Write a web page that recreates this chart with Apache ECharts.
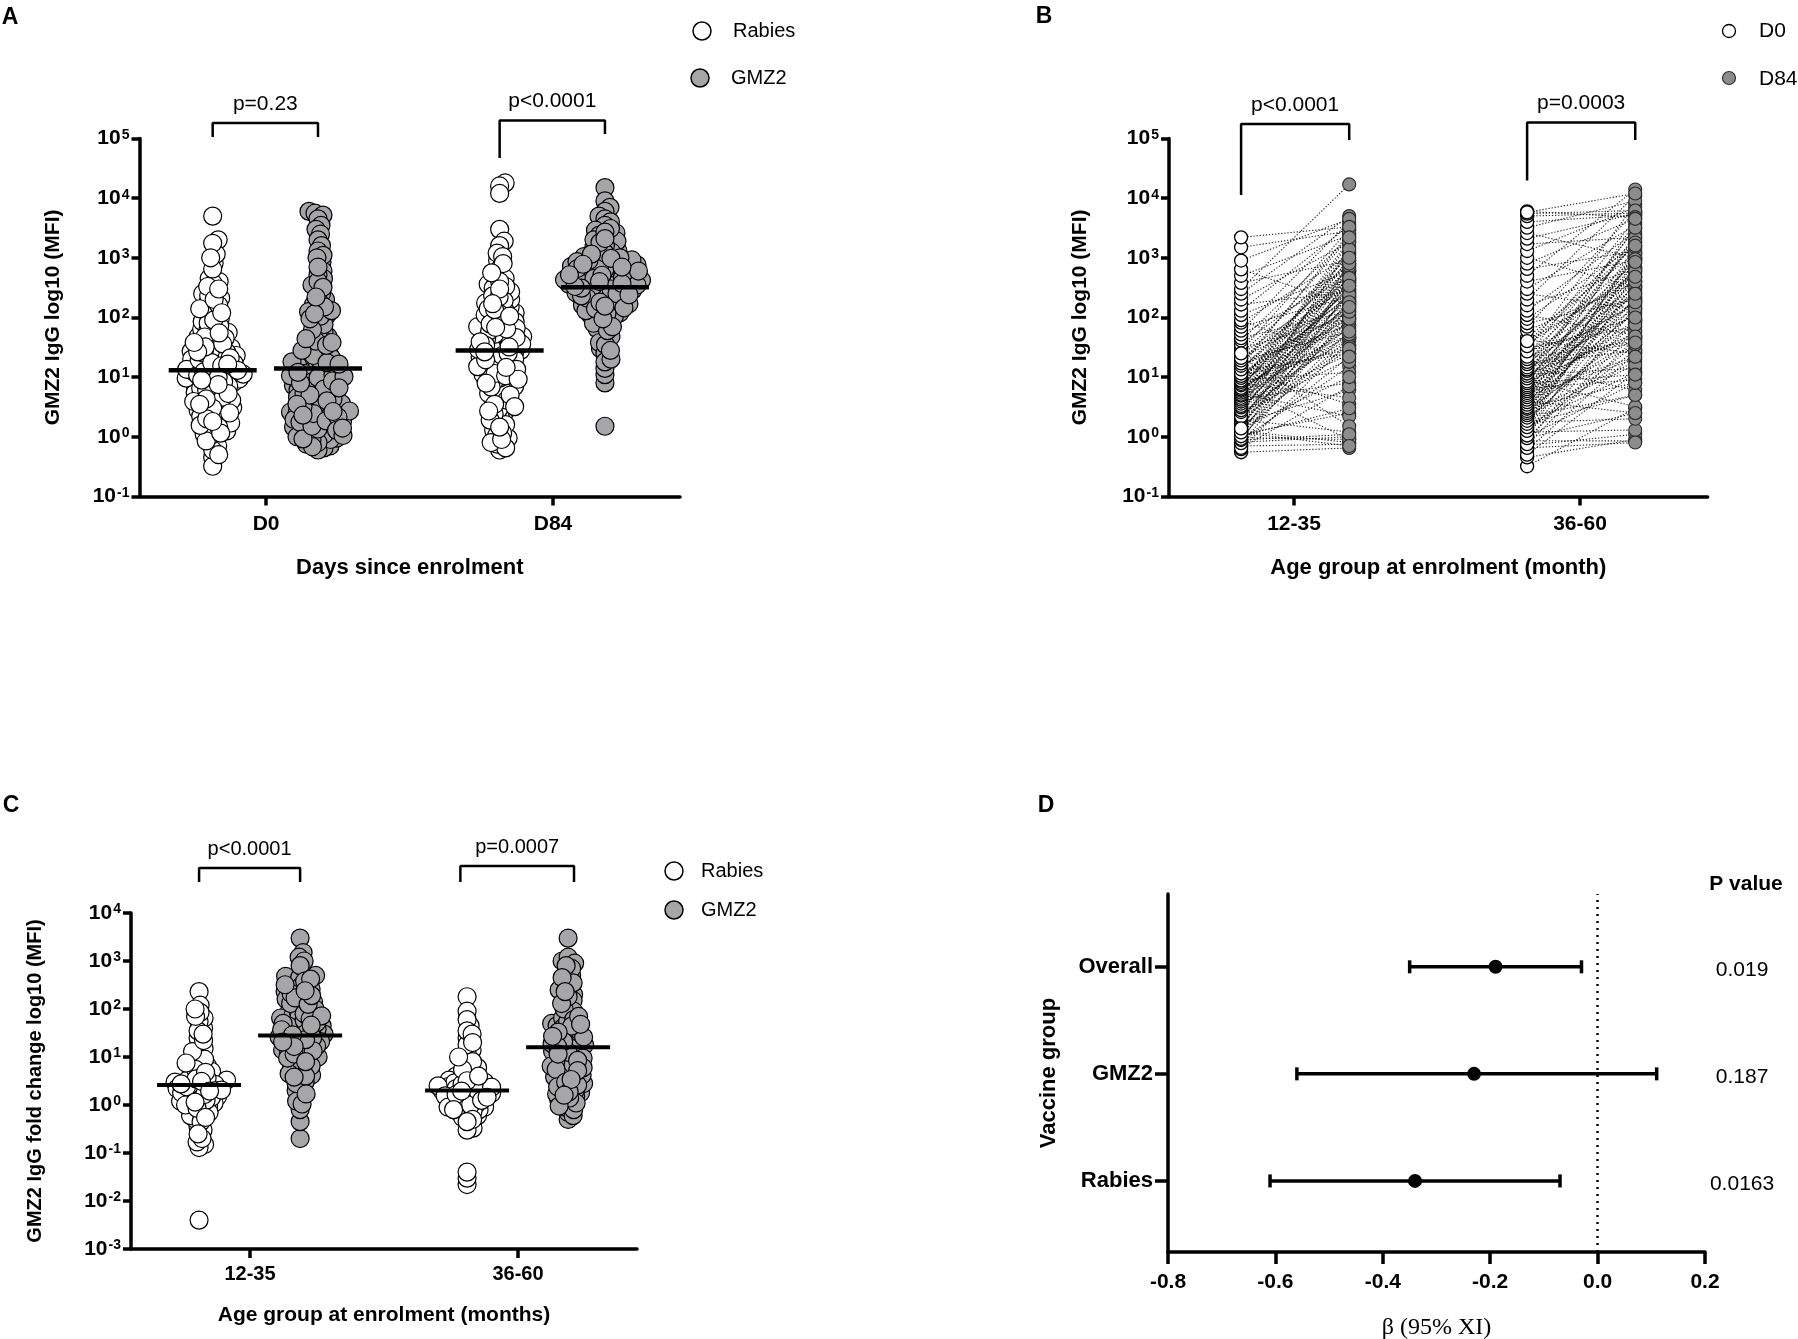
<!DOCTYPE html>
<html>
<head>
<meta charset="utf-8">
<script src="https://cdn.jsdelivr.net/npm/echarts@6/dist/echarts.min.js"></script>
<style>html,body{margin:0;padding:0;background:#fff}#c{width:1798px;height:1339px}</style>
</head>
<body>
<div id="c"></div>
<script>
// ================= DATA =================
// Panel A : GMZ2 IgG (MFI) by day and vaccine group
const panelA_categories = ['D0', 'D84'];
const panelA_rabies_D0 = [12, 5000, 3.4, 27, 0.8, 150, 6.2, 48, 1.6, 19, 820, 9.1, 2.3, 64, 14, 0.45, 31, 4.4, 210, 11, 1.1, 23, 7.3, 95, 2.9, 17, 400, 5.5, 38, 1.35, 13, 2000, 8.2, 0.95, 56, 21, 3.8, 130, 10.3, 1.9, 42, 6.8, 26, 2.6, 250, 15, 0.7, 72, 4.9, 18, 1150, 9.6, 3.1, 34, 12.5, 1.5, 180, 7.7, 29, 2.1, 85, 5.1, 16, 0.32, 450, 11.5, 3.6, 52, 24, 1.25, 8.7, 115, 20, 4.1, 1750, 6.5, 40, 2.45, 13.5, 0.6, 68, 10.8, 3.3, 280, 22, 1.7, 9.3, 45, 5.8, 370, 14.5, 2.75, 105, 19.5, 1.05, 7.1, 60, 4.6, 28, 0.85, 160, 12.2, 3.9, 36, 650, 8.4, 2.2, 25, 1.45, 80, 10.1, 5.3, 17.5, 230, 1.55, 6.0, 47, 3.0, 15.5, 1000, 9.9, 2.0, 32, 0.5, 140, 11.2, 4.3, 90, 21, 1.15, 7.5, 330, 26.5, 2.5, 55, 13, 1.8, 200, 8.9, 16.5, 3.5, 300, 38, 120];
const panelA_gmz2_D0 = [1.2, 6000, 4.5, 15, 0.85, 2.6, 110, 8, 1.7, 22, 3.3, 0.7, 5600, 11, 1.4, 48, 6.5, 2.1, 17, 0.95, 300, 3.9, 9.5, 1.05, 27, 5.2, 1.9, 13, 850, 2.4, 0.65, 70, 7.2, 1.3, 19, 4.1, 5200, 10.5, 1.55, 36, 2.9, 0.9, 140, 6, 14, 1.15, 3.6, 24, 8.8, 0.75, 4500, 1.8, 12, 58, 2.2, 5.6, 0.6, 200, 16, 1.45, 4.8, 30, 9.1, 2.7, 600, 1.1, 21, 3.1, 0.8, 7.6, 3500, 13.5, 1.65, 42, 2.5, 165, 6.9, 11.5, 1.25, 0.88, 4.3, 26, 3000, 1.95, 88, 10, 2.35, 5.9, 18, 450, 1.35, 3.4, 0.68, 250, 15.5, 8.3, 2.05, 54, 1.6, 2500, 12.5, 4.6, 1.0, 125, 33, 7, 2.8, 20, 1.75, 350, 5.4, 0.92, 9.8, 2000, 14.5, 3.8, 1.5, 76, 23, 6.3, 2.45, 105, 11, 1.85, 520, 4, 17.5, 1600, 2.15, 8.6, 40, 1.28, 3.2, 180, 28, 5, 1300, 1.05, 62, 10.2, 400, 2.65, 7.9, 130, 16.5, 1100, 3.5, 95, 1.4, 320, 12, 44, 1000, 150, 6.6, 700, 34, 115, 2.3, 220, 38];
const panelA_rabies_D84 = [28, 18000, 6.5, 45, 1.8, 120, 15, 900, 3.2, 62, 22, 0.6, 250, 9, 35, 16000, 4.4, 80, 12, 1.3, 500, 19, 2.6, 150, 7.5, 55, 26, 0.95, 12000, 40, 5.3, 200, 14, 1.05, 90, 33, 650, 8.2, 3000, 17, 2.2, 70, 11, 130, 3.8, 48, 24, 0.75, 360, 6, 1900, 100, 30, 10, 2.9, 58, 21, 175, 4.8, 1600, 38, 13, 0.65, 85, 7, 310, 27, 1.6, 110, 16, 50, 5.8, 1200, 42, 9.6, 230, 2.4, 66, 20, 0.8, 450, 31, 8.5, 140, 12.5, 1050, 75, 4.1, 36, 18, 270, 1.15, 52, 6.8, 23, 160, 11.5, 800, 44, 3.5, 95, 25, 1.9, 330, 15, 60, 5, 190, 29, 10.5, 0.9, 400, 34, 7.9, 115, 13.5, 78, 2.7, 220, 46, 19.5, 560, 9.2, 32, 135, 64, 14.5, 1.45, 105, 39, 300, 26.5, 3.2, 68, 170];
const panelA_gmz2_D84 = [320, 15000, 110, 650, 1.5, 2200, 45, 480, 180, 9000, 820, 260, 30, 1300, 390, 140, 7000, 560, 8, 210, 950, 75, 1700, 350, 120, 6000, 700, 290, 55, 430, 1100, 160, 5000, 600, 240, 11, 380, 2600, 90, 520, 200, 4500, 850, 310, 65, 1500, 460, 150, 4000, 720, 270, 38, 540, 1900, 230, 14, 410, 125, 3500, 880, 340, 100, 620, 1250, 190, 25, 500, 2900, 280, 160, 760, 80, 1050, 360, 18, 580, 220, 3100, 440, 130, 920, 300, 48, 680, 1400, 250, 420, 105, 2400, 800, 330, 170, 35, 1000, 470, 210, 640, 2000, 290, 115, 550, 1600, 390, 60, 740, 260, 1200, 450, 140, 980, 20, 350, 600, 2700, 180, 510, 860, 230, 70, 400, 1800, 310, 660, 145, 900, 28, 370, 1150, 240, 780, 95, 430, 2100, 330, 520, 155, 700];
const panelA_medians_rabies = [13, 28];
const panelA_medians_gmz2 = [14, 320];
const panelA_pvalues = ['p=0.23', 'p<0.0001'];

// Panel B : paired D0 -> D84 per child, by age group
const panelB_categories = ['12-35', '36-60'];
const panelB_D0_12_35 = [0.55, 0.62, 0.7, 0.74, 0.81, 0.86, 0.9, 0.97, 1.0, 1.08, 1.1, 1.22, 1.25, 1.33, 1.4, 1.52, 1.6, 1.72, 1.8, 1.93, 2.0, 2.15, 2.3, 2.55, 2.7, 3.0, 3.2, 3.45, 3.8, 4.05, 4.3, 4.7, 5.0, 5.3, 5.7, 6.0, 6.4, 7.1, 7.5, 8.0, 8.6, 9.0, 10, 11.2, 12, 13, 14.5, 15, 16, 18, 20.5, 22, 24, 27, 30, 9.4, 6.8, 2.4, 12.6, 7.8, 35, 41, 45, 52, 60, 70, 82, 90, 110, 130, 165, 200, 250, 300, 380, 500, 640, 900, 1500, 2200,
  1.15, 1.45, 1.65, 1.85, 2.05, 2.2, 2.6, 2.8, 3.1, 3.3, 3.6, 3.9, 4.2, 4.5, 4.9, 5.1, 5.5, 5.9, 6.2, 6.6, 7.3, 7.7, 8.3, 8.8, 9.7, 10.5, 11.5, 13.5, 15.5, 17, 19, 21, 25, 0.65, 0.78, 0.88, 0.92, 1.02, 1.18, 1.38];
const panelB_D84_12_35 = [0.65, 40, 0.75, 120, 1.0, 300, 15, 0.9, 60, 500, 2.5, 200, 0.8, 90, 800, 30, 150, 6, 400, 1.2, 250, 70, 1500, 20, 350, 180, 600, 45, 1000, 110, 8, 320, 700, 2.2, 160, 2000, 85, 450, 35, 1200, 230, 12, 550, 140, 900, 3.5, 380, 2600, 75, 650, 190, 1.5, 420, 3000, 100, 280, 0.9, 55, 25, 4.5, 750, 2200, 130, 480, 4000, 220, 1100, 18, 600, 3500, 270, 1800, 5000, 17000, 900, 2400, 160, 4500, 2800, 3300,
  45, 260, 95, 600, 33, 170, 420, 75, 1300, 140, 24, 380, 650, 65, 210, 1800, 48, 300, 110, 720, 52, 240, 1400, 95, 460, 30, 180, 800, 125, 2200, 58, 340, 1000, 7, 22, 1.1, 150, 3, 0.7, 10];
const panelB_D0_36_60 = [0.32, 0.45, 0.6, 0.72, 0.8, 0.86, 0.93, 1.0, 1.12, 1.2, 1.33, 1.4, 1.55, 1.6, 1.74, 1.8, 1.95, 2.0, 2.2, 2.45, 2.6, 2.85, 3.05, 3.3, 3.65, 4.0, 4.4, 4.85, 5.2, 5.6, 6.1, 6.5, 7.0, 7.6, 8.2, 9.1, 10, 11, 12.3, 13, 14.2, 15, 17, 19, 21, 23.5, 25, 28, 31, 35, 38, 42, 46, 8.8, 16.2, 60, 70, 80, 95, 110, 130, 160, 200, 250, 300, 400, 500, 650, 800, 1000, 1300, 1700, 2100, 2600, 3200, 4000, 5000, 5500, 6000, 5800,
  0.5, 0.65, 0.75, 0.95, 1.05, 1.25, 1.45, 1.65, 1.85, 2.1, 2.3, 2.5, 2.7, 2.95, 3.15, 3.45, 3.8, 4.2, 4.6, 5.0, 5.4, 5.8, 6.3, 6.8, 7.3, 7.9, 8.5, 9.5, 10.5, 11.5, 12.7, 13.5, 14.6, 16.5, 18, 20, 22, 27, 33, 40];
const panelB_D84_36_60 = [3, 0.9, 25, 1.1, 150, 0.85, 60, 8, 400, 1.3, 35, 220, 900, 12, 2.0, 500, 80, 1400, 5, 280, 18, 700, 45, 1100, 130, 2.5, 350, 20, 2500, 90, 600, 9, 190, 4000, 55, 800, 240, 14, 1800, 110, 450, 6, 3000, 160, 40, 1000, 300, 8000, 70, 550, 2000, 25, 1200, 3.2, 28, 380, 6000, 200, 1600, 50, 2700, 650, 11000, 140, 3500, 900, 14000, 1300, 4500, 320, 7000, 2200, 5500, 1000, 9000, 5200, 5600, 6200, 4800, 12000,
  12, 0.8, 45, 2.5, 180, 28, 650, 5, 90, 320, 16, 1200, 60, 210, 8, 480, 35, 1500, 120, 700, 22, 260, 2200, 75, 400, 11, 950, 140, 3200, 48, 600, 180, 1800, 38, 850, 250, 4500, 100, 1600, 480];
const panelB_pvalues = ['p<0.0001', 'p=0.0003'];

// Panel C : fold change (D84/D0) by age group and vaccine group
const panelC_categories = ['12-35', '36-60'];
const panelC_rabies_12_35 = [2.6, 230, 0.004, 1.4, 6.5, 0.15, 2.1, 40, 0.9, 3.8, 1.7, 12, 0.35, 2.9, 65, 1.2, 5, 0.65, 2.3, 18, 0.13, 3.3, 1.05, 8, 0.5, 1.9, 120, 2.7, 0.8, 4.4, 1.5, 25, 0.3, 3, 7, 1.1, 55, 2.2, 0.6, 10, 1.6, 3.6, 0.17, 2.5, 6, 1.3, 85, 0.95, 2, 15, 0.7, 4, 1.8, 35, 2.8, 0.45, 1, 9, 3.2, 1.45, 0.2, 5.5, 2.4, 70, 1.25, 13, 0.85, 3.5, 2.05, 22, 0.55, 4.8, 1.65, 100, 2.75, 1.15, 7.5, 0.25, 30, 3.1, 1.95];
const panelC_gmz2_12_35 = [28, 3000, 0.2, 5, 120, 14, 400, 1.6, 45, 9, 1500, 22, 250, 3.5, 70, 0.45, 33, 180, 11, 600, 2.4, 55, 18, 350, 7, 1200, 40, 4.2, 95, 26, 0.8, 150, 13, 480, 60, 6, 30, 1000, 2, 85, 20, 280, 8.5, 38, 16, 200, 3, 65, 10, 450, 24, 140, 5.5, 48, 1.2, 800, 34, 110, 12, 300, 75, 7.5, 42, 19, 230, 4.5, 90, 27, 160, 15, 500, 52, 2.8, 36, 9.5, 260, 68, 21, 130, 6.5, 380, 44, 17, 100, 1.05, 58, 31, 210, 11.5, 80, 4, 25, 170, 50, 13.5, 320, 62, 23, 1.7, 125, 37, 8, 420, 29, 190, 16.5, 72, 3.8, 46, 240, 20.5];
const panelC_rabies_36_60 = [2, 180, 0.022, 1.3, 4, 0.03, 0.9, 2.6, 14, 0.33, 1.7, 6, 0.6, 2.3, 45, 1.1, 3.3, 0.04, 1.5, 9, 0.8, 2.8, 0.3, 1.9, 25, 1.2, 5, 0.7, 2.4, 90, 1.6, 3.8, 0.95, 2.1, 12, 0.55, 1.4, 7, 2.9, 0.85, 1.75, 60, 1.05, 3, 0.65, 2.2, 18, 1.35, 4.5, 0.75, 2.5, 1.85, 35, 1, 3.5, 0.5, 1.55, 8, 2.05, 30, 1.25, 2.7, 0.9, 5.5, 1.65, 10, 0.45, 2.35, 1.45, 3.2, 0.8, 1.95, 20, 4];
const panelC_gmz2_36_60 = [16, 3000, 0.5, 4, 80, 1.2, 25, 1000, 9, 2.5, 400, 14, 0.7, 50, 6, 200, 1.8, 35, 12, 1200, 3.2, 22, 0.9, 120, 7.5, 600, 1.5, 45, 18, 5, 900, 2.2, 30, 11, 300, 0.6, 65, 8, 20, 1.3, 150, 3.8, 40, 13, 500, 2.8, 28, 6.5, 1.05, 90, 17, 250, 4.5, 55, 2, 10, 700, 24, 3.5, 1.7, 100, 15, 5.5, 38, 0.8, 180, 9.5, 2.4, 26, 350, 7, 1.1, 60, 19, 3, 800, 12.5, 44, 4.2, 1.4, 130, 21, 6, 70, 2.6, 33, 1.9, 450, 8.5, 16.5, 0.95, 230, 5.2, 48, 11.5, 3.4, 27, 1.6];
const panelC_medians_rabies = [2.6, 2.0];
const panelC_medians_gmz2 = [28, 16];
const panelC_pvalues = ['p<0.0001', 'p=0.0007'];

// Panel D : regression coefficients (bottom to top)
const panelD_groups = ['Rabies', 'GMZ2', 'Overall'];
const panelD_beta = [-0.34, -0.23, -0.19];
const panelD_lower = [-0.61, -0.56, -0.35];
const panelD_upper = [-0.07, 0.11, -0.03];
const panelD_pvalues = ['0.0163', '0.187', '0.019'];

// Tick values
const logTicksAB = [0.1, 1, 10, 100, 1000, 10000, 100000];
const logTicksC = [0.001, 0.01, 0.1, 1, 10, 100, 1000, 10000];

// ================= LAYOUT / STYLE =================
const FONT = "'Liberation Sans', Arial, Helvetica, sans-serif";
const G = {
  A: {left: 139.5, top: 138.5, width: 540.5, height: 357.9, xmin: -0.441, xmax: 1.4425},
  B: {left: 1169, top: 138.5, width: 538.6, height: 357.9, xmin: -0.437, xmax: 1.446},
  C: {left: 131, top: 913, width: 506, height: 336, xmin: -0.444, xmax: 1.444},
  D: {left: 1168, top: 894, width: 537, height: 358}
};
const offA = [-0.186, 0.181];   // Rabies, GMZ2 offset from category
const offB = [-0.185, 0.193];   // D0, D84
const offC = [-0.19, 0.187];    // Rabies, GMZ2
const WHITE = {color: '#ffffff', borderColor: '#000', borderWidth: 1.2, opacity: 1};
const GREY = {color: '#a6a6a8', borderColor: '#000', borderWidth: 1.2, opacity: 1};

// beeswarm layout (horizontal placement only; y is the value)
function swarm(values, center, pxPerDecade, pxPerUnit, md) {
  const ys = values.map(v => Math.log10(v) * pxPerDecade);
  const order = ys.map((y, i) => i).sort((a, b) => ys[a] - ys[b]);
  const px = [], py = [], xs = new Array(values.length);
  for (const i of order) {
    const y = ys[i];
    let chosen = 0;
    for (let k = 0; k < 4000; k++) {
      const dx = (k % 2 ? 1 : -1) * Math.ceil(k / 2) * 0.5;
      let ok = true;
      for (let j = py.length - 1; j >= 0; j--) {
        const dy = y - py[j];
        if (dy >= md) break;
        const ddx = dx - px[j];
        if (ddx * ddx + dy * dy < md * md) { ok = false; break; }
      }
      if (ok) { chosen = dx; break; }
    }
    px.push(chosen); py.push(y);
    xs[i] = center + chosen / pxPerUnit;
  }
  return values.map((v, i) => [xs[i], v]);
}
const pxDecA = G.A.height / 6, pxUnitA = G.A.width / (G.A.xmax - G.A.xmin);
const pxDecC = G.C.height / 7, pxUnitC = G.C.width / (G.C.xmax - G.C.xmin);
const MD_A = 6.2, MD_C = 5.9;

function logAxis(grid, min, max, ticks, name, gap, nameSize) {
  return {
    type: 'log', logBase: 10, gridIndex: grid, min: min, max: max,
    axisLine: {show: true, onZero: false, lineStyle: {color: '#000', width: 3.5}},
    axisTick: {show: true, length: 8, customValues: ticks, lineStyle: {color: '#000', width: 3.5}},
    minorTick: {show: false}, splitLine: {show: false},
    axisLabel: {
      customValues: ticks, margin: 10,
      formatter: v => '{b|10}{s|' + Math.round(Math.log10(v)) + '}',
      rich: {
        b: {fontSize: 21, fontWeight: 'bold', fontFamily: FONT, color: '#000'},
        s: {fontSize: 14, fontWeight: 'bold', fontFamily: FONT, color: '#000', verticalAlign: 'top', padding: [0, 0, 0, 1]}
      }
    },
    name: name, nameLocation: 'middle', nameRotate: 90, nameGap: gap,
    nameTextStyle: {fontSize: nameSize, fontWeight: 'bold', fontFamily: FONT, color: '#000'}
  };
}
function catAxis(grid, g, cats, name, gap, labelSize, nameSize, margin) {
  return {
    type: 'value', gridIndex: grid, min: g.xmin, max: g.xmax,
    axisLine: {show: true, onZero: false, lineStyle: {color: '#000', width: 3.5}},
    axisTick: {show: true, length: 9, customValues: [0, 1], lineStyle: {color: '#000', width: 3.5}},
    splitLine: {show: false},
    axisLabel: {customValues: [0, 1], margin: margin, formatter: v => cats[Math.round(v)],
      fontSize: labelSize, fontWeight: 'bold', fontFamily: FONT, color: '#000'},
    name: name, nameLocation: 'middle', nameGap: gap,
    nameTextStyle: {fontSize: nameSize, fontWeight: 'bold', fontFamily: FONT, color: '#000'}
  };
}
function medianSeries(axis, points, half, width) {
  return {
    type: 'custom', xAxisIndex: axis, yAxisIndex: axis, z: 5, silent: true, clip: false,
    renderItem: (p, api) => {
      const c = api.coord([api.value(0), api.value(1)]);
      return {type: 'line', shape: {x1: c[0] - half, y1: c[1], x2: c[0] + half, y2: c[1]},
        style: {stroke: '#000', lineWidth: width}};
    },
    encode: {x: 0, y: 1},
    data: points
  };
}
// brackets: x ends in category units, heights as log10 exponents
function bracketSeries(axis, brs, texts, fontSize) {
  const out = [];
  brs.forEach((b, i) => {
    const top = Math.pow(10, b.top);
    out.push({
      type: 'line', xAxisIndex: axis, yAxisIndex: axis, clip: false, silent: true, symbol: 'none',
      lineStyle: {color: '#000', width: 2.5, opacity: 1}, z: 6,
      data: [[b.x[0], Math.pow(10, b.legs[0])], [b.x[0], top], [b.x[1], top], [b.x[1], Math.pow(10, b.legs[1])]]
    });
    out.push({
      type: 'scatter', xAxisIndex: axis, yAxisIndex: axis, clip: false, silent: true,
      symbolSize: 1, itemStyle: {color: 'rgba(0,0,0,0)', opacity: 1}, z: 6,
      label: {show: true, position: 'top', distance: 8, formatter: () => texts[i],
        fontSize: fontSize, fontFamily: FONT, color: '#000'},
      data: [[(b.x[0] + b.x[1]) / 2, top]]
    });
  });
  return out;
}
const bracketsA = [
  {x: [offA[0], offA[1]], top: 5.26, legs: [5.025, 5.025]},
  {x: [1 + offA[0], 1 + offA[1]], top: 5.30, legs: [4.673, 5.075]}
];
const bracketsB = [
  {x: [offB[0], offB[1]], top: 5.243, legs: [4.053, 4.975]},
  {x: [1 + offB[0], 1 + offB[1]], top: 5.268, legs: [4.294, 4.975]}
];
const bracketsC = [
  {x: [offC[0], offC[1]], top: 4.9375, legs: [4.646, 4.646]},
  {x: [1 - 0.215, 1 + 0.209], top: 4.979, legs: [4.646, 4.646]}
];

// ================= SERIES =================
const series = [];
// ---- A
series.push({type: 'scatter', name: 'Rabies', xAxisIndex: 0, yAxisIndex: 0, symbolSize: 18, itemStyle: WHITE, clip: false,
  data: swarm(panelA_rabies_D0, 0 + offA[0], pxDecA, pxUnitA, MD_A).concat(swarm(panelA_rabies_D84, 1 + offA[0], pxDecA, pxUnitA, MD_A))});
series.push({type: 'scatter', name: 'GMZ2', xAxisIndex: 0, yAxisIndex: 0, symbolSize: 18, itemStyle: GREY, clip: false,
  data: swarm(panelA_gmz2_D0, 0 + offA[1], pxDecA, pxUnitA, MD_A).concat(swarm(panelA_gmz2_D84, 1 + offA[1], pxDecA, pxUnitA, MD_A))});
series.push(medianSeries(0, panelA_medians_rabies.map((m, i) => [i + offA[0], m]).concat(panelA_medians_gmz2.map((m, i) => [i + offA[1], m])), 44, 4.5));
bracketSeries(0, bracketsA, panelA_pvalues, 21).forEach(s => series.push(s));

// ---- B
const pairsB = [];
panelB_D0_12_35.forEach((v, i) => pairsB.push([0 + offB[0], v, 0 + offB[1], panelB_D84_12_35[i]]));
panelB_D0_36_60.forEach((v, i) => pairsB.push([1 + offB[0], v, 1 + offB[1], panelB_D84_36_60[i]]));
series.push({
  type: 'custom', xAxisIndex: 1, yAxisIndex: 1, silent: true,
  renderItem: (p, api) => {
    const a = api.coord([api.value(0), api.value(1)]);
    const b = api.coord([api.value(2), api.value(3)]);
    return {type: 'line', shape: {x1: a[0], y1: a[1], x2: b[0], y2: b[1]},
      style: {stroke: 'rgba(0,0,0,0.85)', lineWidth: 1.1, lineDash: [1.3, 1.8]}};
  },
  encode: {x: [0, 2], y: [1, 3]},
  data: pairsB
});
series.push({type: 'scatter', name: 'D0', xAxisIndex: 1, yAxisIndex: 1, symbolSize: 13, clip: false,
  itemStyle: {color: '#fff', borderColor: '#000', borderWidth: 1.3, opacity: 1},
  data: panelB_D0_12_35.map(v => [0 + offB[0], v]).concat(panelB_D0_36_60.map(v => [1 + offB[0], v]))});
series.push({type: 'scatter', name: 'D84', xAxisIndex: 1, yAxisIndex: 1, symbolSize: 13, clip: false,
  itemStyle: {color: '#8c8c8c', borderColor: '#2a2a2a', borderWidth: 1.1, opacity: 1},
  data: panelB_D84_12_35.map(v => [0 + offB[1], v]).concat(panelB_D84_36_60.map(v => [1 + offB[1], v]))});
bracketSeries(1, bracketsB, panelB_pvalues, 21).forEach(s => series.push(s));

// ---- C
series.push({type: 'scatter', name: 'Rabies', xAxisIndex: 2, yAxisIndex: 2, symbolSize: 18, itemStyle: WHITE, clip: false,
  data: swarm(panelC_rabies_12_35, 0 + offC[0], pxDecC, pxUnitC, MD_C).concat(swarm(panelC_rabies_36_60, 1 + offC[0], pxDecC, pxUnitC, MD_C))});
series.push({type: 'scatter', name: 'GMZ2', xAxisIndex: 2, yAxisIndex: 2, symbolSize: 18, itemStyle: GREY, clip: false,
  data: swarm(panelC_gmz2_12_35, 0 + offC[1], pxDecC, pxUnitC, MD_C).concat(swarm(panelC_gmz2_36_60, 1 + offC[1], pxDecC, pxUnitC, MD_C))});
series.push(medianSeries(2, panelC_medians_rabies.map((m, i) => [i + offC[0], m]).concat(panelC_medians_gmz2.map((m, i) => [i + offC[1], m])), 42, 4));
bracketSeries(2, bracketsC, panelC_pvalues, 20).forEach(s => series.push(s));

// ---- D
series.push({
  type: 'custom', xAxisIndex: 3, yAxisIndex: 3, silent: true,
  renderItem: (p, api) => {
    const y = api.value(2);
    const a = api.coord([api.value(0), y]);
    const b = api.coord([api.value(1), y]);
    const h = 6.5, st = {stroke: '#000', lineWidth: 3.5};
    return {type: 'group', children: [
      {type: 'line', shape: {x1: a[0], y1: a[1], x2: b[0], y2: b[1]}, style: st},
      {type: 'line', shape: {x1: a[0], y1: a[1] - h, x2: a[0], y2: a[1] + h}, style: st},
      {type: 'line', shape: {x1: b[0], y1: b[1] - h, x2: b[0], y2: b[1] + h}, style: st}
    ]};
  },
  encode: {x: [0, 1], y: 2},
  data: panelD_lower.map((lo, i) => [lo, panelD_upper[i], i])
});
series.push({
  type: 'scatter', xAxisIndex: 3, yAxisIndex: 3, symbolSize: 14, itemStyle: {color: '#000', opacity: 1}, z: 4,
  data: panelD_beta.map((b, i) => [b, i]),
  markLine: {silent: true, symbol: ['none', 'none'], label: {show: false},
    lineStyle: {color: '#000', width: 2.5, type: [2, 5], opacity: 1}, data: [{xAxis: 0}]}
});
series.push({
  type: 'scatter', xAxisIndex: 3, yAxisIndex: 3, symbolSize: 1, clip: false, silent: true,
  itemStyle: {color: 'rgba(0,0,0,0)', opacity: 1},
  label: {show: true, position: 'inside', formatter: p => panelD_pvalues[p.dataIndex],
    fontSize: 21, fontFamily: FONT, color: '#000', offset: [0, 3]},
  data: panelD_pvalues.map((t, i) => [0.269, i])
});

// ================= GRAPHIC (panel letters, legends, header) =================
function txt(t, x, y, size, bold, align) {
  return {type: 'text', silent: true, style: {text: t, x: x, y: y,
    font: (bold ? 'bold ' : '') + size + 'px ' + FONT, fill: '#000',
    textAlign: align || 'left', textVerticalAlign: 'middle', align: align || 'left', verticalAlign: 'middle'}};
}
function dot(cx, cy, r, fill, stroke, lw) {
  return {type: 'circle', silent: true, shape: {cx: cx, cy: cy, r: r}, style: {fill: fill, stroke: stroke, lineWidth: lw}};
}
const graphic = [
  txt('A', 10, 18, 23, true, 'center'),
  txt('B', 1044, 17, 23, true, 'center'),
  txt('C', 11, 806, 23, true, 'center'),
  txt('D', 1046, 806, 23, true, 'center'),
  dot(702, 31, 9, '#fff', '#000', 1.5), txt('Rabies', 733, 31, 20, false),
  dot(700, 78, 9, '#a6a6a8', '#000', 1.5), txt('GMZ2', 731, 78, 20, false),
  dot(1729, 31, 6.5, '#fff', '#000', 1.3), txt('D0', 1759, 31, 21, false),
  dot(1729, 78, 6.5, '#8c8c8c', '#333', 1.2), txt('D84', 1759, 79, 21, false),
  dot(674, 871, 9, '#fff', '#000', 1.5), txt('Rabies', 701, 871, 20, false),
  dot(674, 910, 9, '#a6a6a8', '#000', 1.5), txt('GMZ2', 701, 910, 20, false),
  txt('P value', 1746, 884, 21, true, 'center')
];

// ================= OPTION =================
const grids = ['A', 'B', 'C', 'D'].map(k => ({left: G[k].left, top: G[k].top, width: G[k].width, height: G[k].height,
  containLabel: false, outerBoundsMode: 'none'}));

const option = {
  backgroundColor: '#ffffff',
  animation: false,
  textStyle: {fontFamily: FONT},
  grid: grids,
  xAxis: [
    catAxis(0, G.A, panelA_categories, 'Days since enrolment', 61, 21, 22, 17),
    catAxis(1, G.B, panelB_categories, 'Age group at enrolment (month)', 61, 21, 22, 17),
    catAxis(2, G.C, panelC_categories, 'Age group at enrolment (months)', 56, 20, 21, 15),
    {
      type: 'value', gridIndex: 3, min: -0.8, max: 0.2, interval: 0.2,
      axisLine: {show: true, onZero: false, lineStyle: {color: '#000', width: 3.5}},
      axisTick: {show: true, length: 12, lineStyle: {color: '#000', width: 3.5}},
      splitLine: {show: false},
      axisLabel: {margin: 20, formatter: v => v.toFixed(1), fontSize: 21, fontWeight: 'bold', fontFamily: FONT, color: '#000'},
      name: 'β (95% XI)', nameLocation: 'middle', nameGap: 64,
      nameTextStyle: {fontSize: 24, fontFamily: "'Liberation Serif', 'Times New Roman', serif", color: '#000'}
    }
  ],
  yAxis: [
    logAxis(0, 0.1, 100000, logTicksAB, 'GMZ2 IgG log10 (MFI)', 76, 21),
    logAxis(1, 0.1, 100000, logTicksAB, 'GMZ2 IgG log10 (MFI)', 78, 21),
    logAxis(2, 0.001, 10000, logTicksC, 'GMZ2 IgG fold change log10 (MFI)', 86, 20),
    {
      type: 'value', gridIndex: 3, min: -0.664, max: 2.68,
      axisLine: {show: true, onZero: false, lineStyle: {color: '#000', width: 3.5}},
      axisTick: {show: true, length: 13, customValues: [0, 1, 2], lineStyle: {color: '#000', width: 3.5}},
      splitLine: {show: false},
      axisLabel: {customValues: [0, 1, 2], margin: 15, formatter: v => panelD_groups[Math.round(v)],
        fontSize: 22, fontWeight: 'bold', fontFamily: FONT, color: '#000'},
      name: 'Vaccine group', nameLocation: 'middle', nameRotate: 90, nameGap: 108,
      nameTextStyle: {fontSize: 22, fontWeight: 'bold', fontFamily: FONT, color: '#000'}
    }
  ],
  series: series,
  graphic: graphic
};

const chart = echarts.init(document.getElementById('c'), null, {renderer: 'canvas', width: 1798, height: 1339});
chart.setOption(option);
</script>
</body>
</html>
